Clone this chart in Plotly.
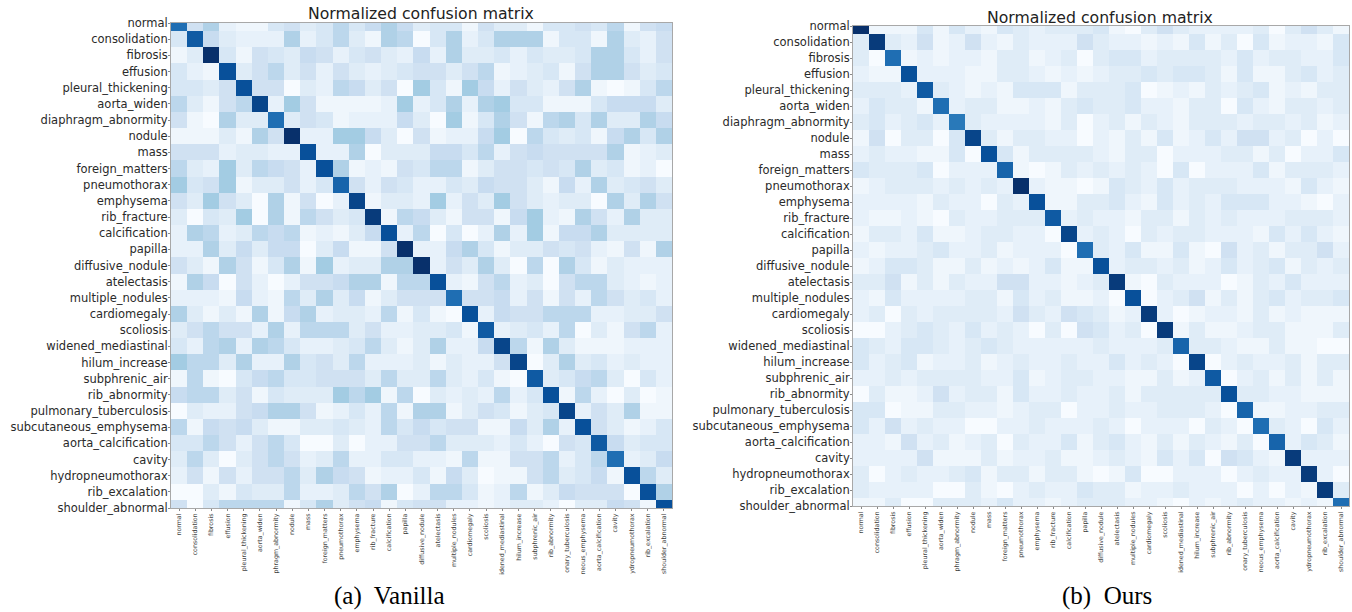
import plotly.graph_objects as go

categories = ["normal","consolidation","fibrosis","effusion","pleural_thickening","aorta_widen",
"diaphragm_abnormity","nodule","mass","foreign_matters","pneumothorax","emphysema","rib_fracture",
"calcification","papilla","diffusive_nodule","atelectasis","multiple_nodules","cardiomegaly","scoliosis",
"widened_mediastinal","hilum_increase","subphrenic_air","rib_abnormity","pulmonary_tuberculosis",
"subcutaneous_emphysema","aorta_calcification","cavity","hydropneumothorax","rib_excalation","shoulder_abnormal"]

# x labels are cut off at the bottom of the source image, so they read as clipped
x_tick_labels = ["normal","consolidation","fibrosis","effusion","pleural_thickening","aorta_widen",
"phragm_abnormity","nodule","mass","foreign_matters","pneumothorax","emphysema","rib_fracture",
"calcification","papilla","diffusive_nodule","atelectasis","multiple_nodules","cardiomegaly","scoliosis",
"idened_mediastinal","hilum_increase","subphrenic_air","rib_abnormity","onary_tuberculosis",
"neous_emphysema","aorta_calcification","cavity","ydropneumothorax","rib_excalation","shoulder_abnormal"]

# cell values, in units of 1/25 of the colour scale
vanilla = [
[19,5,8,2,1,1,4,5,3,4,7,4,6,8,6,3,4,4,1,5,3,3,1,4,4,5,4,7,1,5,6],
[4,21,6,3,2,2,2,8,2,4,7,3,1,8,7,0,4,8,2,4,8,8,8,1,4,4,1,8,3,2,5],
[1,3,25,4,1,5,4,3,6,5,2,4,5,3,2,6,2,8,3,3,4,2,4,3,3,4,8,8,4,2,5],
[4,2,1,22,3,5,7,3,5,2,5,3,2,3,4,5,5,3,5,7,1,2,3,4,1,5,8,8,5,3,4],
[4,4,3,5,22,5,5,0,3,2,7,6,3,5,0,9,4,1,9,6,2,5,3,2,5,8,1,0,1,4,7],
[7,3,1,5,7,23,2,9,5,1,1,1,1,2,9,2,4,8,2,8,9,4,4,1,1,1,4,6,6,6,3],
[5,1,0,8,3,3,19,3,5,4,1,2,2,2,6,3,0,9,1,4,8,5,1,7,8,4,8,3,3,8,6],
[1,1,1,3,1,8,5,25,2,2,9,9,6,3,0,5,1,2,2,6,9,0,7,4,3,4,1,6,8,4,8],
[5,5,5,2,3,3,2,2,22,2,2,8,0,3,3,3,6,6,4,7,2,5,6,5,5,5,5,8,1,2,3],
[7,3,2,9,3,7,6,5,2,22,8,1,2,1,5,4,7,7,1,3,5,5,4,5,4,8,3,4,1,2,0],
[9,4,5,9,1,3,3,5,2,4,20,5,2,5,4,2,2,4,3,6,5,5,3,1,6,2,8,3,4,5,3],
[5,3,9,5,3,0,8,1,5,0,2,23,1,3,3,2,9,2,5,3,9,5,3,2,3,3,0,8,3,8,5],
[3,0,4,3,9,0,8,1,7,5,3,4,24,1,7,6,3,1,5,5,1,6,9,2,1,8,5,2,8,3,3],
[2,8,7,2,3,7,6,7,1,2,1,3,6,22,2,7,0,4,0,2,8,2,9,1,6,6,8,3,3,3,3],
[2,2,8,3,6,3,6,6,0,3,6,1,1,5,25,2,2,6,8,4,1,3,3,5,4,5,2,1,5,1,8],
[5,3,1,8,5,1,4,8,1,9,2,3,3,8,8,25,2,5,3,8,3,0,7,0,8,4,1,3,2,2,2],
[1,8,6,0,5,2,0,2,5,5,6,8,8,1,7,7,22,2,1,5,7,2,3,0,5,7,7,3,2,1,2],
[2,2,2,1,6,2,1,7,3,8,3,6,1,3,5,5,5,19,5,5,6,2,5,1,5,2,7,5,3,4,2],
[8,3,1,3,1,8,1,6,8,2,3,3,2,7,1,4,1,0,22,2,6,5,5,7,7,7,2,2,3,3,5],
[3,5,7,5,5,2,8,2,7,7,7,3,5,2,2,3,3,4,1,21,2,3,4,2,7,0,3,1,5,7,2],
[4,2,7,8,2,8,7,4,2,2,3,4,7,3,1,3,8,2,2,6,23,7,1,8,3,1,1,1,2,2,2],
[9,7,7,3,8,2,2,8,4,5,3,7,2,2,2,3,1,3,2,2,5,23,0,3,8,3,4,2,3,2,2],
[1,7,1,0,4,6,7,4,4,5,5,5,3,7,3,3,7,3,2,4,1,0,21,3,4,6,7,3,0,4,2],
[6,7,7,3,5,1,4,3,3,3,9,7,9,1,7,0,3,2,3,2,7,2,4,22,1,7,2,0,3,0,1],
[0,3,2,2,5,6,8,8,5,1,2,4,2,7,1,8,8,1,3,5,4,1,3,4,23,2,5,3,8,1,1],
[7,1,6,5,6,3,1,1,3,3,4,3,2,7,4,6,4,5,5,1,1,6,3,8,2,22,5,3,1,2,4],
[4,4,7,5,2,5,7,4,0,0,3,0,2,2,5,5,7,3,3,3,2,4,2,0,5,4,21,6,3,4,4],
[3,7,3,0,3,5,7,5,2,3,7,2,2,4,4,2,2,1,7,1,1,5,5,7,2,4,7,19,2,3,6],
[2,5,1,5,2,5,5,7,3,8,6,5,1,2,2,4,1,6,3,0,1,1,5,7,3,4,6,1,22,7,3],
[0,0,3,1,4,3,3,7,2,2,3,7,5,8,0,2,7,7,4,1,2,7,1,3,6,5,5,5,0,22,8],
[5,0,4,7,7,7,7,1,4,8,3,5,6,1,4,5,5,2,2,1,2,3,3,2,0,3,3,6,5,1,22],
]

ours = [
[25,1,1,1,4,1,4,2,1,4,3,2,3,3,3,4,1,0,3,5,3,2,2,2,2,3,0,3,5,3,1],
[3,24,3,2,5,1,2,5,2,1,3,2,2,2,5,3,2,2,1,2,1,4,1,3,0,4,1,2,2,1,4],
[3,0,19,1,2,1,2,2,1,3,3,1,2,3,0,3,4,4,2,3,3,3,3,2,4,2,3,3,2,2,4],
[2,1,1,22,2,2,2,1,1,3,3,2,1,2,1,2,3,3,4,3,4,4,3,1,4,1,1,3,4,2,3],
[3,3,3,2,21,3,2,1,2,1,4,4,4,1,3,3,3,4,0,1,2,1,3,2,3,4,1,2,1,3,3],
[2,4,3,3,1,19,2,3,3,1,1,2,1,3,4,3,3,4,2,2,1,3,3,0,4,2,1,3,3,2,3],
[3,4,2,3,4,2,18,3,2,2,2,2,1,3,0,2,3,1,3,2,1,3,3,3,2,3,3,2,3,1,2],
[1,5,0,3,3,0,4,23,3,1,3,3,2,2,0,2,1,3,1,4,1,2,4,2,5,5,2,3,0,2,0],
[2,3,2,2,1,1,4,0,22,4,1,3,3,3,3,2,1,3,3,0,2,2,2,3,3,1,3,0,2,2,4],
[4,3,3,3,4,0,2,2,2,20,1,0,1,3,2,3,2,3,2,0,4,0,2,2,2,4,1,3,3,3,2],
[1,2,3,3,3,2,3,2,3,2,25,2,1,1,0,1,4,3,2,4,2,3,3,3,2,2,2,1,4,2,1],
[2,2,2,2,1,3,2,2,0,3,2,22,1,1,3,3,4,2,1,4,2,3,2,4,4,4,2,2,1,0,2],
[2,1,1,2,1,0,3,2,2,3,3,3,21,2,3,2,2,1,3,3,1,3,2,3,2,2,2,3,3,3,2],
[1,3,3,2,4,1,1,2,3,3,2,2,0,23,2,3,2,0,3,2,3,3,2,2,2,1,4,2,4,2,1],
[2,1,2,2,3,4,2,2,3,1,2,2,2,0,19,3,2,4,1,1,4,1,0,5,2,3,1,3,3,5,2],
[1,2,4,4,3,1,1,3,1,2,1,2,4,1,1,22,2,3,3,2,3,1,2,4,2,3,4,1,3,2,3],
[3,3,5,1,3,1,3,2,2,5,5,2,2,1,2,3,24,1,0,3,2,2,2,0,1,3,2,4,2,2,2],
[2,1,4,2,2,2,2,3,3,1,4,2,3,1,1,2,0,22,0,2,3,5,1,3,1,3,4,2,3,3,4],
[2,3,0,3,2,3,3,3,3,2,5,3,2,5,4,3,1,2,24,2,0,1,2,2,1,3,1,2,1,1,1],
[0,0,2,3,4,3,2,4,2,3,2,0,3,0,5,4,2,3,0,24,1,3,1,1,2,3,3,1,1,1,3],
[4,3,2,4,4,3,2,3,4,3,2,2,2,2,2,3,2,2,2,3,20,3,3,2,1,1,3,1,1,0,0],
[4,2,3,4,1,2,2,3,1,2,3,2,2,3,2,2,4,2,3,2,0,23,0,2,3,2,2,3,1,3,3],
[2,2,3,2,3,3,3,3,2,2,4,1,2,3,3,2,2,1,1,3,1,2,21,0,2,3,1,3,1,3,1],
[0,3,1,1,2,5,2,3,3,1,4,2,2,3,2,2,3,1,3,3,3,3,3,22,3,3,2,2,1,1,1],
[4,4,0,1,1,3,3,2,2,1,2,3,3,0,2,2,3,2,2,3,3,3,2,0,20,1,1,2,2,3,3],
[4,2,5,2,3,2,2,0,0,2,2,3,2,2,2,3,2,0,2,2,2,0,3,2,0,19,3,2,0,4,2],
[2,2,1,5,2,3,1,2,3,0,3,2,2,4,1,3,4,2,1,3,1,3,2,1,3,0,20,2,4,3,1],
[2,2,2,2,5,1,1,1,3,1,2,2,3,1,1,2,3,2,1,4,2,4,0,5,4,2,1,24,2,2,2],
[3,0,2,3,2,2,3,4,1,3,3,1,3,3,1,0,1,4,0,0,2,2,2,0,2,3,2,2,24,2,0],
[3,2,2,2,2,0,0,3,1,0,2,3,2,2,4,3,3,1,2,2,3,2,2,2,0,2,0,2,1,24,3],
[1,1,3,0,0,3,3,3,2,4,2,2,1,2,3,3,3,2,2,1,0,2,1,2,3,2,2,1,2,1,19],
]

title_text = "Normalized confusion matrix"
caption_a = "(a)  Vanilla"
caption_b = "(b)  Ours"

W, H = 1352, 612
positions = list(range(len(categories)))
fig = go.Figure()

def add_panel(values, idx, box):
    x0, x1, y0, y1 = box
    suffix = "" if idx == 1 else str(idx)
    fig.add_trace(go.Heatmap(z=values, x=positions, y=positions, colorscale="Blues",
                             zmin=0, zmax=25, showscale=False,
                             xaxis="x" + suffix, yaxis="y" + suffix))
    common = dict(showgrid=False, zeroline=False, showline=True, mirror=True, automargin=False,
                  linecolor="#a8a8a8", linewidth=1, ticks="outside", ticklen=2,
                  tickcolor="#888888", tickwidth=1, tickmode="array", tickvals=positions)
    fig.update_layout({
        "xaxis" + suffix: dict(common, domain=[x0 / W, x1 / W], ticktext=x_tick_labels,
                               tickangle=-90, tickfont=dict(family="DejaVu Sans", size=6.3, color="#444444"),
                               range=[-0.5, 30.5], anchor="y" + suffix),
        "yaxis" + suffix: dict(common, domain=[1 - y1 / H, 1 - y0 / H], ticktext=categories,
                               tickfont=dict(family="DejaVu Sans", size=11.5, color="#2a2a2a"),
                               ticklabelstandoff=-2,
                               range=[30, 0], anchor="x" + suffix),
    })

add_panel(vanilla, 1, (171, 672, 23, 508))
add_panel(ours, 2, (853, 1349, 26, 506))

def label(text, cx, cy, family, size, color):
    fig.add_annotation(text=text, x=cx / W, y=1 - cy / H, xref="paper", yref="paper",
                       showarrow=False, xanchor="center", yanchor="middle",
                       font=dict(family=family, size=size, color=color))

label(title_text, 421, 13, "DejaVu Sans", 15.7, "#222222")
label(title_text, 1100, 17, "DejaVu Sans", 15.7, "#222222")
label(caption_a, 390, 596, "Liberation Serif", 25, "#000000")
label(caption_b, 1107, 596, "Liberation Serif", 25, "#000000")

fig.update_layout(width=W, height=H, margin=dict(l=0, r=0, t=0, b=0),
                  paper_bgcolor="white", plot_bgcolor="white", autosize=False)
fig.write_html("out.html", config={"displayModeBar": False},
               post_script="document.body.style.margin='0';")
